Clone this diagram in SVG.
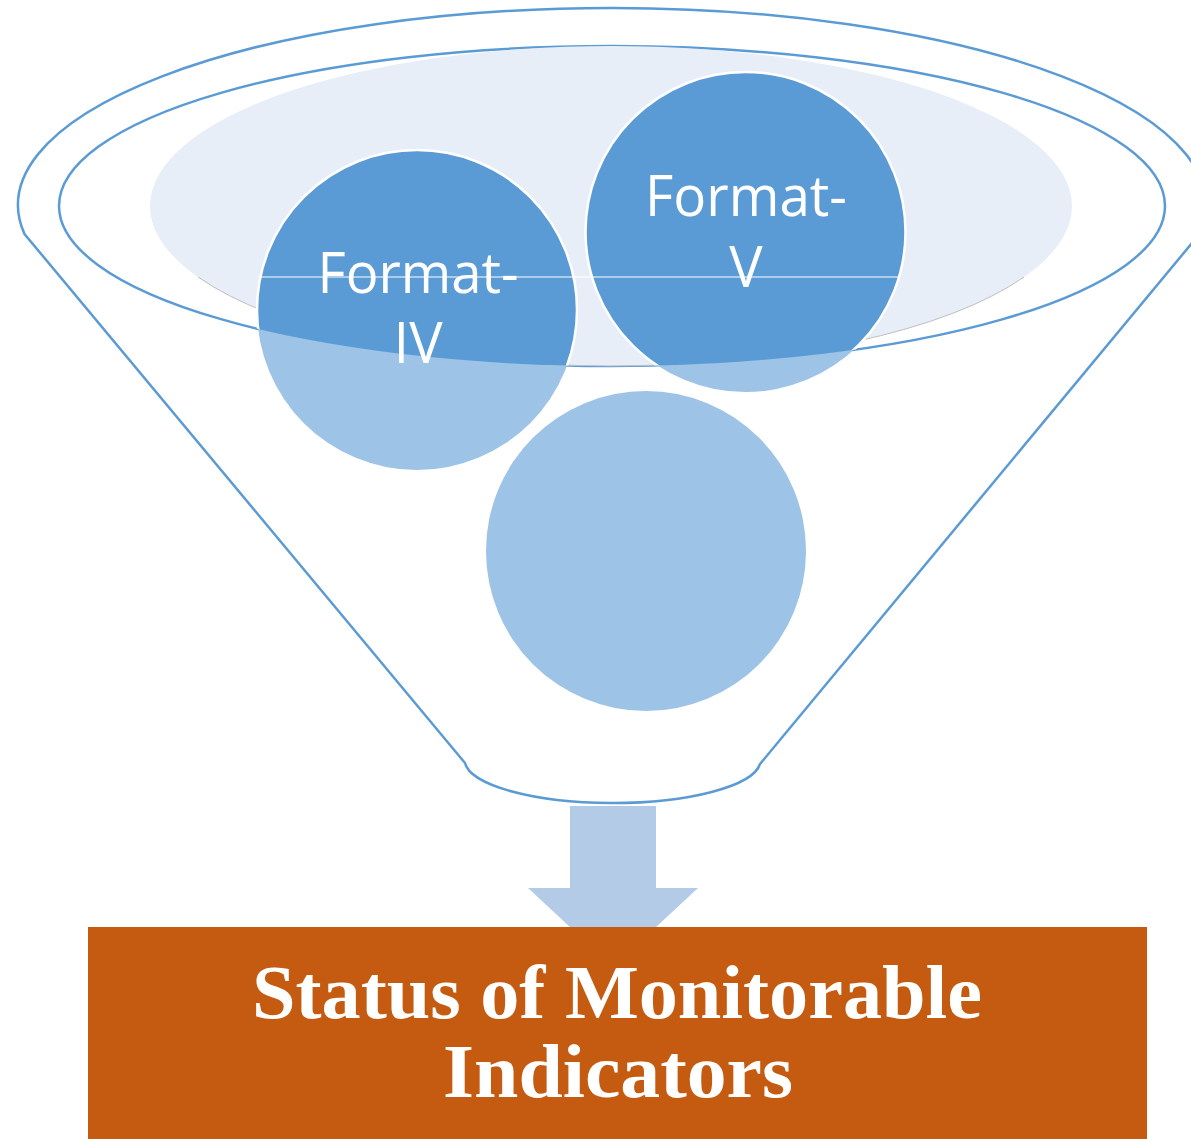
<svg xmlns="http://www.w3.org/2000/svg" width="1191" height="1139" viewBox="0 0 1191 1139">
<style>
.rim{fill:none;stroke:#5B9BD5;stroke-width:2.5}
.dark{fill:#5B9BD5;stroke:#FFFFFF;stroke-width:2.5}
.light{fill:#9DC3E6}
.lbl{font-family:"Open Sans","Noto Sans","Liberation Sans",sans-serif;font-size:56px;fill:#FFFFFF;text-anchor:middle}
.out{font-family:"Liberation Serif","DejaVu Serif",serif;font-weight:bold;font-size:76px;fill:#FFFFFF;text-anchor:middle}
</style>
<defs>
<clipPath id="inside"><ellipse cx="612" cy="206" rx="553" ry="160"/></clipPath>
</defs>
<rect x="0" y="0" width="1191" height="1139" fill="#FFFFFF"/>
<g id="funnel">
<path class="rim" d="M24.5,234 A594,197 0 1 1 1199.5,234 L760,764 A148,43 0 0 1 465,763 Z"/>
<ellipse class="rim" cx="612" cy="206" rx="553" ry="160"/>
<ellipse cx="611" cy="206" rx="461" ry="160" fill="#E7EEF8"/>
<path d="M198,277 A461,160 0 0 0 1024,277" fill="none" stroke="#BFBFBF" stroke-width="1"/>
</g>
<g id="node-format-iv">
<circle class="light" cx="417" cy="310" r="160"/>
<circle class="dark" cx="417" cy="310" r="160" clip-path="url(#inside)"/>
</g>
<g id="node-format-v">
<circle class="light" cx="745.5" cy="232" r="160"/>
<circle class="dark" cx="745.5" cy="232" r="160" clip-path="url(#inside)"/>
</g>
<g id="node-third">
<circle class="light" cx="646" cy="551" r="160"/>
</g>
<line x1="258" y1="277" x2="898" y2="277" stroke="#FFFFFF" stroke-width="1"/>
<g id="labels">
<text class="lbl" x="418" y="293" textLength="201" lengthAdjust="spacingAndGlyphs">Format-</text>
<text class="lbl" x="418" y="363">IV</text>
<text class="lbl" x="746" y="216" textLength="202" lengthAdjust="spacingAndGlyphs">Format-</text>
<text class="lbl" x="746" y="287">V</text>
</g>
<g id="connectors">
<path d="M570,806 L656,806 L656,888 L698,888 L613,967 L528,888 L570,888 Z" fill="#B4CBE7"/>
</g>
<g id="node-status">
<rect x="88" y="927" width="1059" height="212" fill="#C55A11"/>
<text class="out" x="617" y="1018" textLength="730" lengthAdjust="spacingAndGlyphs">Status of Monitorable</text>
<text class="out" x="618" y="1097" textLength="350" lengthAdjust="spacingAndGlyphs">Indicators</text>
</g>
</svg>
